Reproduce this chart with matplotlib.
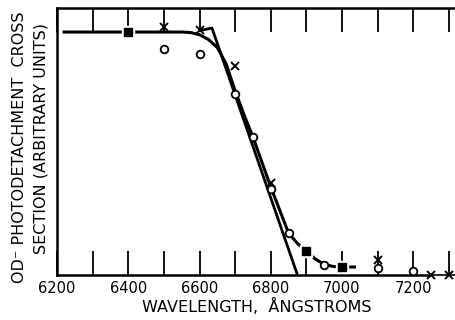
import matplotlib
matplotlib.use("Agg")
import matplotlib.pyplot as plt

# values (y in arbitrary units, plateau ~0.91)
circle_x = [6500, 6600, 6700, 6750, 6800, 6850, 6950, 7100, 7200]
circle_y = [0.846, 0.828, 0.678, 0.517, 0.322, 0.157, 0.037, 0.026, 0.015]
cross_x = [6500, 6600, 6700, 6800, 7100, 7250, 7300]
cross_y = [0.929, 0.918, 0.783, 0.345, 0.056, 0.0, 0.0]
square_x = [6400, 6900, 7000]
square_y = [0.91, 0.09, 0.03]

# smooth fitted curve
curve_x = [6220, 6400, 6550, 6575, 6600, 6625, 6650, 6675, 6700, 6725, 6750, 6800, 6850,
           6875, 6900, 6925, 6950, 6975, 7000, 7035]
curve_y = [0.91, 0.91, 0.91, 0.908, 0.9, 0.882, 0.852, 0.79, 0.69, 0.6, 0.517, 0.33, 0.157,
           0.118, 0.09, 0.06, 0.04, 0.032, 0.03, 0.03]
# straight threshold line
steep_x = [6600, 6635, 6875]
steep_y = [0.915, 0.925, 0.0]
# tail at far right
tail_x = [7250, 7320]
tail_y = [0.0, 0.0]

xticks = list(range(6200, 7301, 100))
xlabels = ['6200', '', '6400', '', '6600', '', '6800', '', '7000', '', '7200', '']

fig = plt.figure(figsize=(4.56, 3.2), dpi=100)
ax = fig.add_axes([0.125, 0.1406, 0.875, 0.8344])

ax.plot(curve_x, curve_y, color='black', lw=2.2, solid_joinstyle='round')
ax.plot(steep_x, steep_y, color='black', lw=2.0, solid_capstyle='butt')
ax.plot(tail_x, tail_y, color='black', lw=1.2, clip_on=False)

ax.plot(circle_x, circle_y, 'o', ms=5.5, mfc='white', mec='black', mew=1.3, zorder=5, clip_on=False)
ax.plot(cross_x, cross_y, 'x', ms=6, mec='black', mew=1.4, zorder=5, clip_on=False)
ax.plot(square_x, square_y, 's', ms=9, mfc='white', mec='white', zorder=4, clip_on=False)
ax.plot(square_x, square_y, 's', ms=6, mfc='black', mec='black', zorder=5, clip_on=False)

ax.set_xlim(6200, 7320)
ax.set_ylim(0, 1)
ax.set_xticks(xticks)
ax.set_xticklabels(xlabels, fontsize=10.5)
ax.set_yticks([])
ax.tick_params(axis='x', direction='in', length=17, width=1.3, top=True, pad=4)

for s in ['left', 'bottom', 'top']:
    ax.spines[s].set_linewidth(1.8)
ax.spines['right'].set_visible(False)
ax.spines['bottom'].set_bounds(6200, 7245)

ax.set_xlabel('WAVELENGTH,  ÅNGSTROMS', fontsize=11.5, labelpad=2)

fig.text(0.042, 1 - 147 / 320, 'OD⁻ PHOTODETACHMENT  CROSS', rotation=90,
         ha='center', va='center', fontsize=11.5)
fig.text(0.09, 1 - 139 / 320, 'SECTION (ARBITRARY UNITS)', rotation=90,
         ha='center', va='center', fontsize=11.5)

fig.savefig('out.png', dpi=100)
